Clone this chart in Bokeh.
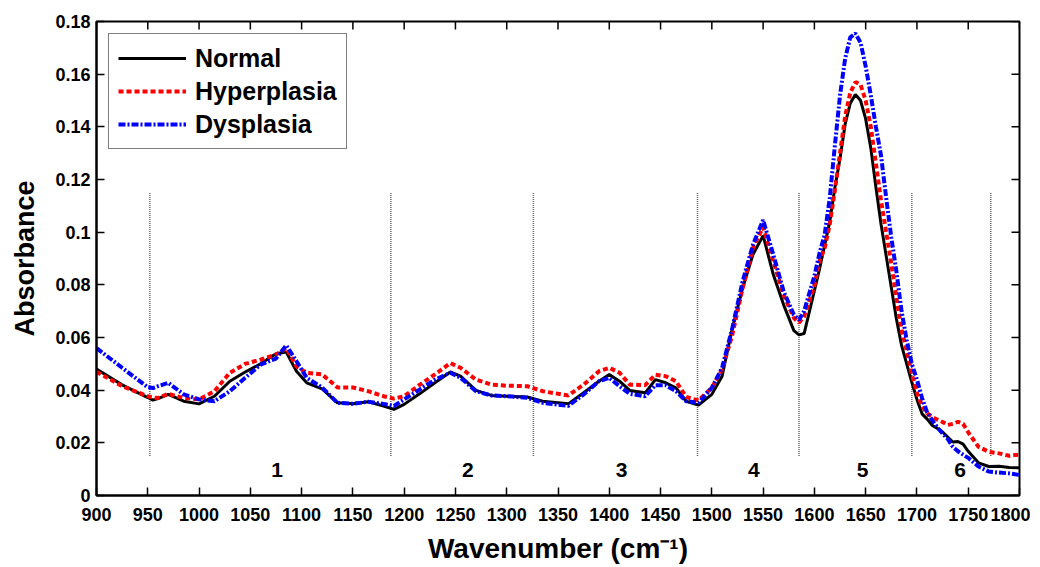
import math
from bokeh.plotting import figure
from bokeh.models import FixedTicker, NumeralTickFormatter, Range1d, Legend, LegendItem
from bokeh.core.properties import value
from bokeh.embed import file_html
from bokeh.resources import INLINE

wavenumber = [900, 925, 950, 955, 960, 970, 985, 1000, 1015, 1030, 1045, 1060, 1075, 1085, 1095,
              1105, 1120, 1135, 1150, 1165, 1180, 1190, 1200, 1215, 1230, 1245, 1255, 1270, 1285,
              1300, 1320, 1335, 1360, 1375, 1390, 1400, 1410, 1420, 1435, 1445, 1455, 1465, 1475,
              1487, 1500, 1510, 1520, 1530, 1540, 1550, 1560, 1570, 1580, 1585, 1590, 1600, 1605,
              1610, 1615, 1620, 1625, 1630, 1635, 1640, 1645, 1650, 1655, 1660, 1665, 1670, 1675,
              1680, 1685, 1690, 1695, 1700, 1705, 1710, 1715, 1720, 1725, 1730, 1735, 1740, 1745,
              1750, 1760, 1770, 1780, 1790, 1800]

normal = [0.048, 0.042, 0.0372, 0.0362, 0.0368, 0.0384, 0.0358, 0.0348, 0.0377, 0.0434, 0.0469,
          0.0500, 0.0538, 0.0545, 0.0472, 0.0428, 0.0405, 0.0352, 0.0348, 0.0356, 0.0340, 0.0327,
          0.0346, 0.0386, 0.0428, 0.0469, 0.0453, 0.0399, 0.0380, 0.0377, 0.0374, 0.0358, 0.0348,
          0.0390, 0.0434, 0.0459, 0.0434, 0.0399, 0.0390, 0.0440, 0.0428, 0.0409, 0.0358, 0.0343,
          0.0384, 0.0453, 0.0636, 0.0787, 0.0914, 0.0987, 0.0838, 0.0724, 0.0626, 0.0610, 0.0615,
          0.0778, 0.086, 0.095, 0.104, 0.117, 0.128, 0.141, 0.149, 0.1523, 0.150, 0.143, 0.132,
          0.117, 0.103, 0.091, 0.079, 0.067, 0.057, 0.050, 0.043, 0.0365, 0.031, 0.029, 0.0266,
          0.0255, 0.0241, 0.0222, 0.0203, 0.0205, 0.0195, 0.0168, 0.0124, 0.0110, 0.0111, 0.0106,
          0.0105]

hyperplasia = [0.047, 0.0415, 0.0377, 0.0372, 0.0370, 0.0386, 0.0370, 0.0365, 0.0396, 0.0466,
               0.0500, 0.0516, 0.0535, 0.0560, 0.0490, 0.0466, 0.0460, 0.0410, 0.0410, 0.0396,
               0.0377, 0.0368, 0.0377, 0.0420, 0.0460, 0.0503, 0.0485, 0.0440, 0.0421, 0.0417,
               0.0415, 0.0396, 0.0380, 0.0421, 0.0472, 0.0485, 0.0466, 0.0421, 0.0419, 0.0459,
               0.0453, 0.0434, 0.0374, 0.0361, 0.0409, 0.0478, 0.0611, 0.0787, 0.0939, 0.1020,
               0.0889, 0.0762, 0.0674, 0.0656, 0.0680, 0.0796, 0.089, 0.094, 0.103, 0.116, 0.130,
               0.144, 0.153, 0.1570, 0.156, 0.150, 0.140, 0.126, 0.112, 0.100, 0.088, 0.075, 0.063,
               0.055, 0.046, 0.039, 0.034, 0.0312, 0.0298, 0.0288, 0.0279, 0.0268, 0.0272, 0.0280,
               0.0272, 0.0240, 0.0185, 0.0166, 0.0160, 0.0151, 0.0155]

dysplasia = [0.056, 0.0485, 0.0411, 0.0408, 0.0415, 0.0428, 0.0384, 0.0365, 0.0358, 0.0396, 0.0447,
             0.0497, 0.0520, 0.0570, 0.0510, 0.0447, 0.0410, 0.0352, 0.0348, 0.0356, 0.0348, 0.0340,
             0.0365, 0.0402, 0.0440, 0.0466, 0.0447, 0.0396, 0.0380, 0.0377, 0.0371, 0.0352, 0.0340,
             0.0384, 0.0434, 0.0447, 0.0415, 0.0386, 0.0377, 0.0419, 0.0419, 0.0396, 0.0358, 0.0352,
             0.0409, 0.0485, 0.0636, 0.0813, 0.0951, 0.1046, 0.0914, 0.0775, 0.0686, 0.0667, 0.0700,
             0.0834, 0.092, 0.099, 0.113, 0.133, 0.152, 0.166, 0.174, 0.1755, 0.172, 0.163, 0.152,
             0.140, 0.129, 0.113, 0.098, 0.085, 0.070, 0.059, 0.050, 0.044, 0.037, 0.0315, 0.0285,
             0.0258, 0.0235, 0.0215, 0.0185, 0.0168, 0.0155, 0.0143, 0.0110, 0.0091, 0.0087, 0.0084,
             0.0078]

region_bounds = [952, 1187, 1326, 1486, 1585, 1695, 1772]
region_line_bottom = 0.015
region_line_top = 0.115
region_labels = ["1", "2", "3", "4", "5", "6"]
region_label_x = [1076, 1262, 1412, 1541, 1647, 1742]
region_label_y = 0.0095

x_min, x_max = 900, 1800
y_min, y_max = 0, 0.18
x_ticks = list(range(900, 1801, 50))
y_ticks = [0, 0.02, 0.04, 0.06, 0.08, 0.1, 0.12, 0.14, 0.16, 0.18]

FONT = "Liberation Sans"

p = figure(width=1030, height=566, output_backend="svg", toolbar_location=None,
           x_range=Range1d(x_min, x_max), y_range=Range1d(y_min, y_max),
           min_border_left=96, min_border_right=11, min_border_top=21, min_border_bottom=70)
p.background_fill_color = "white"
p.border_fill_color = "white"
p.outline_line_color = "black"
p.outline_line_width = 2
p.xgrid.visible = False
p.ygrid.visible = False

for ax in (p.xaxis[0], p.yaxis[0]):
    ax.major_tick_in = 8
    ax.major_tick_out = 0
    ax.minor_tick_line_color = None
    ax.axis_line_width = 2
    ax.major_tick_line_width = 1.5
    ax.major_label_text_font = FONT
    ax.major_label_text_font_style = "bold"
    ax.major_label_text_font_size = "18px"
    ax.major_label_text_color = "black"
    ax.axis_label_text_font = FONT
    ax.axis_label_text_font_style = "bold"
    ax.axis_label_text_color = "black"

p.xaxis[0].ticker = FixedTicker(ticks=x_ticks)
p.yaxis[0].ticker = FixedTicker(ticks=y_ticks)
p.yaxis[0].formatter = NumeralTickFormatter(format="0.[00]")
p.xaxis[0].axis_label = "Wavenumber (cm⁻¹)"
p.yaxis[0].axis_label = "Absorbance"
p.xaxis[0].axis_label_text_font_size = "28px"
p.yaxis[0].axis_label_text_font_size = "27px"
p.xaxis[0].major_label_standoff = 12
p.yaxis[0].major_label_standoff = 6
p.xaxis[0].axis_label_standoff = 9
p.yaxis[0].axis_label_standoff = 12

# inward ticks on the top and right edges of the frame (markers are clipped to the frame)
p.scatter(x=x_ticks, y=[y_max] * len(x_ticks), marker="dash", size=16, angle=math.pi / 2,
          line_color="black", line_width=1.5)
p.scatter(x=[x_max] * len(y_ticks), y=y_ticks, marker="dash", size=16,
          line_color="black", line_width=1.5)

# region separators
p.segment(x0=region_bounds, y0=[region_line_bottom] * len(region_bounds),
          x1=region_bounds, y1=[region_line_top] * len(region_bounds),
          line_color="#666666", line_width=1.5, line_dash="1 1")
p.text(x=region_label_x, y=[region_label_y] * len(region_labels), text=region_labels,
       text_font=value(FONT), text_font_style="bold", text_font_size="21px",
       text_align="center", text_baseline="middle", text_color="black")

r_n = p.line(wavenumber, normal, line_color="black", line_width=3)
r_h = p.line(wavenumber, hyperplasia, line_color="#ff0000", line_width=4, line_dash="5 3")
r_d = p.line(wavenumber, dysplasia, line_color="#0000ff", line_width=4, line_dash="7 2 2 2")

legend = Legend(items=[LegendItem(label="Normal", renderers=[r_n]),
                       LegendItem(label="Hyperplasia", renderers=[r_h]),
                       LegendItem(label="Dysplasia", renderers=[r_d])],
                location="top_left")
legend.border_line_color = "black"
legend.border_line_width = 1.5
legend.label_text_font = FONT
legend.label_text_font_style = "bold"
legend.label_text_font_size = "25px"
legend.label_text_color = "black"
legend.glyph_width = 68
legend.glyph_height = 30
legend.label_height = 30
legend.label_standoff = 9
legend.spacing = 3
legend.padding = 9
legend.margin = 12
legend.background_fill_alpha = 1
p.add_layout(legend)

open("out.html", "w").write(file_html(p, INLINE))
